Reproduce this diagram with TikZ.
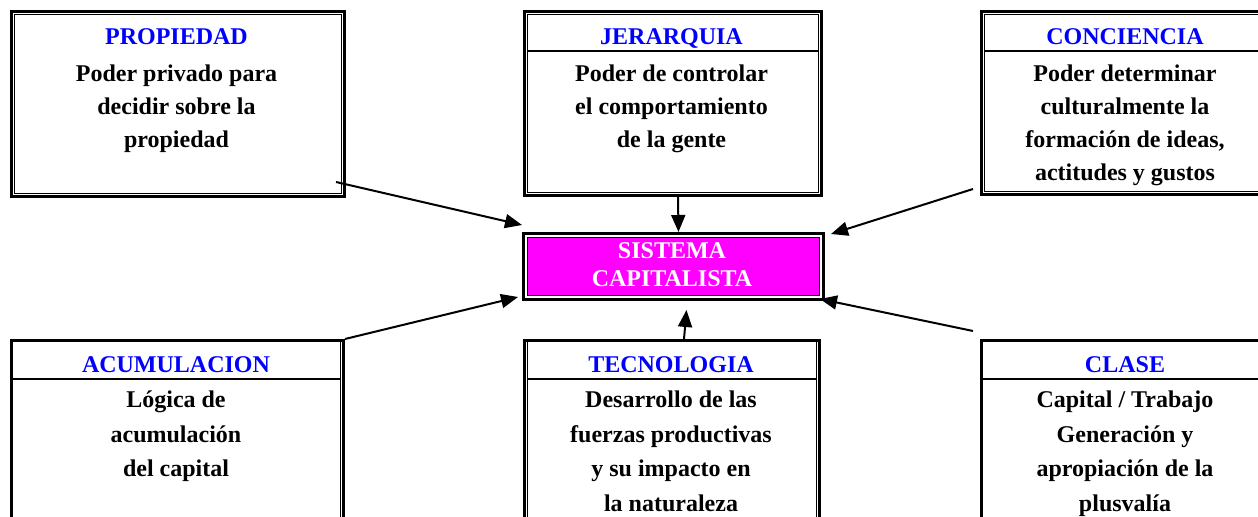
\documentclass[tikz,border=0pt]{standalone}
\usepackage{fontspec}
\setmainfont{Liberation Serif}
\usepackage{tikz}
\usetikzlibrary{arrows.meta,positioning}
\definecolor{azul}{RGB}{0,0,255}
\definecolor{fucsia}{RGB}{255,0,255}
\tikzstyle{fl} = [-{Triangle[length=8.5pt,width=7pt]}, line width=1pt]
\tikzstyle{caja} = [draw, line width=1.5pt, inner sep=0pt, anchor=north west]
\tikzstyle{fino} = [line width=0.65pt]
\tikzstyle{cabecera} = [line width=1.1pt]
\tikzstyle{titulo} = [text=azul, inner sep=0pt, anchor=base, font=\fontsize{12}{14}\selectfont\bfseries]
\tikzstyle{texto} = [align=center, inner sep=0pt, anchor=base, font=\fontsize{12}{16.5}\selectfont\bfseries]
\tikzstyle{textob} = [align=center, inner sep=0pt, anchor=base, font=\fontsize{12}{17.25}\selectfont\bfseries]

\begin{document}
\begin{tikzpicture}[x=0.5pt,y=-0.5pt]
			\useasboundingbox (0,0) rectangle (1258,517);
			\fill[white] (0,0) rectangle (1258,517);
			\clip (0,0) rectangle (1258,517);
			% cajas de arriba
			\node[caja, minimum width=166.5pt, minimum height=92.5pt] (prop) at (10,10) {};
			\draw[fino] ([shift={(2.4pt,-2.4pt)}]prop.north west) rectangle ([shift={(-2.4pt,2.4pt)}]prop.south east);
			\node[caja, minimum width=148.5pt, minimum height=92pt] (jer) at (523,10) {};
			\draw[fino] ([shift={(2.4pt,-2.4pt)}]jer.north west) rectangle ([shift={(-2.4pt,2.4pt)}]jer.south east);
			\draw[cabecera] ([shift={(2.4pt,-20.5pt)}]jer.north west) -- ([shift={(-2.4pt,-20.5pt)}]jer.north east);
			\node[caja, minimum width=145pt, minimum height=91.5pt] (conc) at (980,10) {};
			\draw[fino] ([shift={(2.4pt,-2.4pt)}]conc.north west) rectangle ([shift={(-2.4pt,2.4pt)}]conc.south east);
			\draw[cabecera] ([shift={(2.4pt,-20.5pt)}]conc.north west) -- ([shift={(-2.4pt,-20.5pt)}]conc.north east);
			\node[titulo] (tprop) at (176.5,45) {PROPIEDAD};
			\node[texto] (dprop) at (176.5,148) {Poder privado para\\decidir sobre la\\propiedad};
			\node[titulo] (tjer) at (671.5,45) {JERARQUIA};
			\node[texto] (djer) at (671.5,148) {Poder de controlar\\el comportamiento\\de la gente};
			\node[titulo] (tconc) at (1125,45) {CONCIENCIA};
			\node[texto] (dconc) at (1125,181) {Poder determinar\\culturalmente la\\formación de ideas,\\actitudes y gustos};
			% cajas de abajo
			\node[caja, minimum width=166pt, minimum height=101pt] (acum) at (10,339) {};
			\draw[fino] ([xshift=-2.4pt]acum.north east) -- ([xshift=-2.4pt]acum.south east);
			\draw[cabecera] ([yshift=-20pt]acum.north west) -- ([shift={(-2.4pt,-20pt)}]acum.north east);
			\node[caja, minimum width=147.5pt, minimum height=101pt] (tec) at (523,339) {};
			\draw[fino] ([xshift=2.4pt]tec.north west) -- ([xshift=2.4pt]tec.south west);
			\draw[fino] ([xshift=-2.4pt]tec.north east) -- ([xshift=-2.4pt]tec.south east);
			\draw[cabecera] ([shift={(2.4pt,-20pt)}]tec.north west) -- ([shift={(-2.4pt,-20pt)}]tec.north east);
			\node[caja, minimum width=145pt, minimum height=101pt] (clase) at (980,339) {};
			\draw[cabecera] ([yshift=-20pt]clase.north west) -- ([yshift=-20pt]clase.north east);
			\node[titulo] (tacum) at (176,373) {ACUMULACION};
			\node[textob] (dacum) at (176,477) {Lógica de\\acumulación\\del capital};
			\node[titulo] (ttec) at (671,373) {TECNOLOGIA};
			\node[textob] (dtec) at (671,511.5) {Desarrollo de las\\fuerzas productivas\\y su impacto en\\la naturaleza};
			\node[titulo] (tclase) at (1125,373) {CLASE};
			\node[textob] (dclase) at (1125,511.5) {Capital / Trabajo\\Generación y\\apropiación de la\\plusvalía};
			% centro
			\node[caja, minimum width=150pt, minimum height=33pt] (sis) at (522,232) {};
			\draw[fino, fill=fucsia] ([shift={(2.6pt,-2.6pt)}]sis.north west) rectangle ([shift={(-2.6pt,2.6pt)}]sis.south east);
			\node[align=center, inner sep=0pt, anchor=base, text=white, font=\fontsize{12}{14}\selectfont\bfseries] (tsis) at (672,287) {SISTEMA\\CAPITALISTA};
			% flechas
			\draw[fl] ([shift={(-5pt,8pt)}]prop.south east) -- ([shift={(0pt,3.5pt)}]sis.north west);
			\draw[fl] ([xshift=2.5pt]jer.south) -- ([xshift=2.5pt]sis.north);
			\draw[fl] ([shift={(-3.5pt,3.5pt)}]conc.south west) -- ([shift={(3pt,-1pt)}]sis.north east);
			\draw[fl] (acum.north east) -- ([shift={(-2pt,2pt)}]sis.south west);
			\draw[fl] ([xshift=6pt]tec.north) -- ([shift={(6.5pt,-4.5pt)}]sis.south);
			\draw[fl] ([shift={(-3.5pt,4pt)}]clase.north west) -- ([shift={(-2.5pt,1pt)}]sis.south east);
		\end{tikzpicture}
\end{document}
